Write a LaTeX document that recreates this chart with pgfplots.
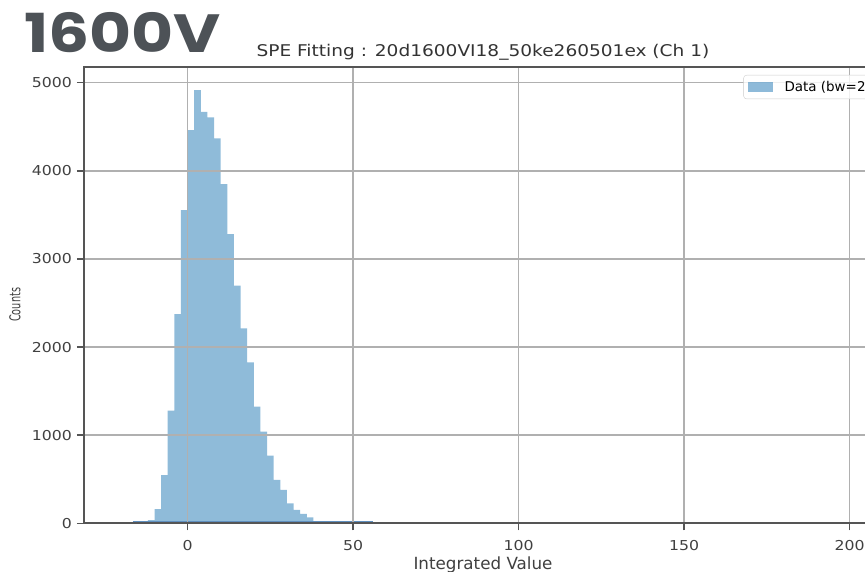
\documentclass[border=0pt]{standalone}
\usepackage{pgfplots}
\pgfplotsset{compat=1.18}
\usepackage{fontspec}
\setmainfont{DejaVu Sans}
\newfontfamily\tickfont{DejaVu Sans}[FakeStretch=1.15]
\newfontfamily\ylabfont{DejaVu Sans}[FakeStretch=0.65]
\newfontfamily\bigfont{Poppins}[UprightFont={* Bold}, FakeStretch=1.2]
\definecolor{C0}{HTML}{1F77B4}
\definecolor{bigtext}{HTML}{4D5257}
\definecolor{gridc}{HTML}{B0B0B0}
\definecolor{spine}{HTML}{555555}
\definecolor{band}{HTML}{5F8FBF}
\pgfplotstableread{
x y
-16 8
-14 18
-12 35
-10 160
-8 548
-6 1278
-4 2375
-2 3555
0 4463
2 4917
4 4671
6 4607
8 4368
10 3850
12 3283
14 2697
16 2213
18 1827
20 1324
22 1040
24 768
26 492
28 378
30 227
32 151
34 106
36 68
38 22
40 18
42 15
44 14
46 12
48 10
50 9
52 8
54 6
56 6
}\histdata
\begin{document}
\begin{tikzpicture}[x=1bp,y=1bp]
\useasboundingbox (0,0) rectangle (865,572);
\clip (0,0) rectangle (865,572);
\node[anchor=base west, inner sep=0, text=bigtext, font=\fontsize{54}{54}\bigfont] at (24,519.7) {1600V};
\begin{axis}[
  at={(84bp,48.7bp)}, anchor=south west,
  scale only axis, width=798bp, height=456bp,
  xmin=-31.3, xmax=209.8, ymin=0, ymax=5176,
  axis on top,
  grid=major, major grid style={gridc, line width=1.4bp},
  axis line style={spine, line width=1.8bp},
  tick style={spine, line width=1.4bp}, tick align=outside, major tick length=7bp,
  tick pos=left,
  xtick={0,50,100,150,200}, ytick={0,1000,2000,3000,4000,5000},
  scaled ticks=false,
  /pgf/number format/assume math mode=true,
  /pgf/number format/1000 sep={},
  xticklabel style={font=\fontsize{13.7}{14}\tickfont, text=black!75, anchor=north, inner sep=0pt},
  yticklabel style={font=\fontsize{13.7}{14}\tickfont, text=black!75, anchor=east, inner sep=0pt},
  xticklabel shift=9.7bp,
  yticklabel shift=5bp,
  title={SPE Fitting : 20d1600VI18\_50ke260501ex (Ch 1)},
  title style={font=\fontsize{16.2}{17}\tickfont, text=black!80, anchor=base, at={(axis description cs:0.5,1)}, yshift=4.8bp, inner sep=0},
  xlabel={Integrated Value},
  xlabel style={font=\fontsize{16.8}{17}\selectfont, text=black!75, anchor=base, at={(axis description cs:0.5,0)}, yshift=-46.2bp, inner sep=0},
  ylabel={Counts},
  ylabel style={font=\fontsize{15}{15}\ylabfont, text=black!75, anchor=center, at={(axis description cs:-0.0864,0.479)}, inner sep=0},
  legend style={at={(axis description cs:1,1)}, anchor=north east, xshift=-5bp, yshift=-7.7bp,
    draw=gray!40, fill=white, fill opacity=0.8, text opacity=1, rounded corners=3bp,
    font=\fontsize{13.5}{13.5}\selectfont, inner xsep=4bp, inner ysep=4bp,
    /tikz/every odd column/.append style={column sep=10bp}},
  legend cell align=left,
  legend image code/.code={\fill[C0, fill opacity=0.5, sharp corners] (0bp,-5bp) rectangle (25bp,5bp);},
]
\addplot[const plot, fill=C0, fill opacity=0.5, draw=none] table[x=x,y=y] {\histdata} \closedcycle;
\addlegendentry{Data (bw=2)}
\addplot[band, line width=2.5bp, forget plot] coordinates {(-16.5,15) (56,15)};
\end{axis}
\end{tikzpicture}
\end{document}
